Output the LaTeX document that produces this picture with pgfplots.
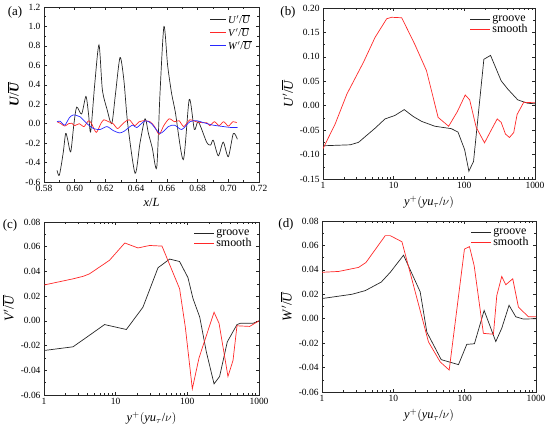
\documentclass[border=0pt]{standalone}
\usepackage{fontspec}
\setmainfont{Liberation Serif}
\usepackage{pgfplots}
\pgfplotsset{compat=1.18}
\definecolor{myred}{RGB}{255,40,40}
\definecolor{myblue}{RGB}{40,40,255}
\pgfplotsset{
  myax/.style={
    scale only axis, anchor=south west, scaled ticks=false,
    axis line style={line width=0.6pt, black!85},
    tick style={black!85, line width=0.5pt},
    tick align=inside, major tick length=3pt, minor tick length=1.8pt,
    ticklabel style={font=\fontsize{9.5}{11}\selectfont},
    /pgf/number format/assume math mode=true,
    xlabel style={font=\fontsize{12.5}{14}\selectfont},
    ylabel style={font=\fontsize{13.5}{15}\selectfont},
    legend style={draw=none, fill=none, font=\fontsize{10.5}{12}\selectfont, row sep=-1.5pt, inner sep=1pt},
    legend cell align=left,
    every axis plot/.append style={line width=0.7pt},
  },
  logax/.style={
    xmin=1, xmax=1000,
    xtick={1,10,100,1000}, xticklabels={1,10,100,1000},
    minor xtick={2,3,4,5,6,7,8,9,20,30,40,50,60,70,80,90,200,300,400,500,600,700,800,900},
    xlabel={\textit{y}$^{+}\big($\textit{yu}$_{\tau}$/$\nu\big)$},
    yticklabel style={/pgf/number format/fixed, /pgf/number format/fixed zerofill, /pgf/number format/precision=2},
    legend style={font=\fontsize{12}{13}\selectfont, row sep=-2.5pt},
  },
}
\begin{document}
\begin{tikzpicture}
\path[use as bounding box] (0,0) rectangle (550bp,435bp);
% ---------------- (a)
\begin{axis}[myax, at={(44bp,253bp)}, width=215bp, height=175bp,
  xmin=0.58, xmax=0.72, ymin=-0.6, ymax=1.2,
  xtick={0.58,0.60,...,0.72}, minor xtick={0.59,0.61,...,0.71},
  ytick={-0.6,-0.4,...,1.2}, minor ytick={-0.5,-0.3,...,1.1},
  xticklabel style={/pgf/number format/fixed, /pgf/number format/fixed zerofill, /pgf/number format/precision=2},
  yticklabel style={/pgf/number format/fixed, /pgf/number format/fixed zerofill, /pgf/number format/precision=1},
  xlabel={\textit{x}/\textit{L}},
  ylabel={\textbf{\textit{U}}/$\overline{\hbox{\textbf{\textit{U}}}}$},
  legend style={at={(0.98,0.975)}, anchor=north east},
  legend image code/.code={\draw[#1] (0cm,0cm) -- (0.55cm,0cm);},
]
\addplot[black!85, smooth, tension=0.45] coordinates {
(0.5885,-0.48) (0.5900,-0.53) (0.5925,-0.30) (0.5941,-0.10) (0.5955,-0.17)
(0.5974,-0.29) (0.5995,0.00) (0.6013,0.17) (0.6045,0.10) (0.6073,0.28)
(0.6090,0.10) (0.6104,-0.08) (0.6130,0.40) (0.6158,0.81) (0.6180,0.35)
(0.6210,0.15) (0.6241,0.00) (0.6265,0.30) (0.6295,0.68) (0.6320,0.45)
(0.6345,0.00) (0.6393,-0.51) (0.6425,-0.20) (0.6458,0.05) (0.6480,-0.10)
(0.6505,-0.25) (0.6534,-0.45) (0.6555,0.30) (0.6581,1.00) (0.6605,0.60)
(0.6631,0.31) (0.6655,0.12) (0.6707,-0.37) (0.6746,0.25) (0.6779,-0.06)
(0.6805,0.02) (0.6859,-0.19) (0.6885,-0.22) (0.6902,-0.17) (0.6935,-0.33)
(0.6967,-0.19) (0.7000,-0.34) (0.7033,-0.10) (0.7059,-0.16)};
\addlegendentry{\textit{U}$'$/$\overline{\hbox{\textit{U}}}$}
\addplot[myred, smooth, tension=0.45] coordinates {
(0.5885,0.02) (0.5910,0.00) (0.5935,-0.025) (0.5960,0.00) (0.5980,0.005)
(0.6000,-0.02) (0.6030,0.00) (0.6060,-0.03) (0.6090,0.03) (0.6110,0.00)
(0.6140,-0.09) (0.6170,0.00) (0.6190,0.04) (0.6220,0.02) (0.6250,0.00)
(0.6280,-0.05) (0.6320,0.01) (0.6355,0.04) (0.6390,-0.02) (0.6420,0.02)
(0.6445,0.03) (0.6490,0.02) (0.6520,-0.03) (0.6550,-0.11) (0.6580,-0.02)
(0.6615,0.05) (0.6650,0.02) (0.6680,0.03) (0.6710,-0.03) (0.6750,0.04)
(0.6790,0.02) (0.6830,0.01) (0.6860,0.01) (0.6880,-0.02) (0.6910,0.02)
(0.6940,-0.02) (0.6970,0.02) (0.7000,-0.025) (0.7030,0.02) (0.7055,0.01)};
\addlegendentry{\textit{V}$'$/$\overline{\hbox{\textit{U}}}$}
\addplot[myblue, smooth, tension=0.45] coordinates {
(0.5885,0.02) (0.5905,0.025) (0.5935,-0.015) (0.5965,0.06) (0.5991,0.09)
(0.6035,0.07) (0.6080,0.00) (0.6122,-0.05) (0.6165,-0.06) (0.6210,-0.03)
(0.6250,-0.07) (0.6290,-0.095) (0.6320,-0.08) (0.6360,-0.03) (0.6380,-0.015)
(0.6405,-0.04) (0.6458,0.03) (0.6500,0.00) (0.6556,-0.10) (0.6610,-0.03)
(0.6650,-0.015) (0.6697,-0.06) (0.6750,0.02) (0.6795,0.03) (0.6840,0.01)
(0.6900,-0.015) (0.6970,-0.03) (0.7020,-0.04) (0.7060,-0.04)};
\addlegendentry{\textit{W}$'$/$\overline{\hbox{\textit{U}}}$}
\end{axis}
% ---------------- (b)
\begin{semilogxaxis}[myax, logax, at={(323bp,256bp)}, width=212bp, height=171bp,
  ymin=-0.15, ymax=0.20,
  ytick={-0.15,-0.10,...,0.20}, minor ytick={-0.125,-0.075,...,0.175},
  ylabel={\textit{U}$'$/$\overline{\hbox{\textit{U}}}$},
  legend style={at={(0.98,0.975)}, anchor=north east},
  legend image code/.code={\draw[#1] (0cm,0cm) -- (0.7cm,0cm);},
]
\addplot[black!85] coordinates {
(1,-0.082) (2.43,-0.080) (3.18,-0.075) (5.46,-0.046) (7.55,-0.027) (10.4,-0.020)
(14.1,-0.008) (18.9,-0.022) (24.8,-0.032) (38.2,-0.042) (65.6,-0.047) (81.4,-0.054)
(101,-0.090) (116,-0.134) (135,-0.114) (189,0.095) (235,0.103) (332,0.051)
(412,0.034) (570,0.012) (788,0.005) (1000,0.004)};
\addlegendentry{groove}
\addplot[myred] coordinates {
(1,-0.088) (1.49,-0.037) (2.18,0.024) (3.74,0.089) (5.46,0.140) (7.97,0.178)
(9.37,0.181) (13.0,0.180) (20,0.125) (29.1,0.072) (42.6,-0.024) (60,-0.042)
(79.7,-0.012) (103,0.022) (119,0.012) (147,-0.044) (193,-0.076) (240,-0.050)
(292,-0.027) (332,-0.034) (382,-0.058) (435,-0.065) (500,-0.055) (558,-0.018)
(692,0.007) (1000,0.006)};
\addlegendentry{smooth}
\end{semilogxaxis}
% ---------------- (c)
\begin{semilogxaxis}[myax, logax, at={(44bp,40bp)}, width=215bp, height=173bp,
  ymin=-0.06, ymax=0.08,
  ytick={-0.06,-0.04,...,0.08}, minor ytick={-0.05,-0.03,...,0.07},
  ylabel={\textit{V}$'$/$\overline{\hbox{\textit{U}}}$},
  legend style={at={(0.98,0.975)}, anchor=north east},
  legend image code/.code={\draw[#1] (0cm,0cm) -- (0.7cm,0cm);},
]
\addplot[black!85] coordinates {
(1,-0.024) (2.54,-0.021) (4,-0.013) (7,-0.003) (14.1,-0.007) (24,0.011)
(39,0.043) (56.7,0.050) (78,0.048) (102,0.035) (120,0.018) (149,0.003)
(184,-0.025) (236,-0.051) (282,-0.045) (361,-0.017) (493,-0.003) (550,-0.002)
(825,-0.002) (1000,0.0)};
\addlegendentry{groove}
\addplot[myred] coordinates {
(1,0.029) (2.54,0.034) (3.5,0.036) (4.3,0.038) (8.2,0.049) (13.4,0.063)
(20.5,0.059) (29.8,0.061) (44.3,0.0605) (78,0.026) (93.7,-0.005) (117.4,-0.055)
(145.5,-0.030) (236,0.007) (277,-0.002) (369,-0.045) (434,-0.032) (493,-0.004)
(741,-0.0045) (1000,0.0)};
\addlegendentry{smooth}
\end{semilogxaxis}
% ---------------- (d)
\begin{semilogxaxis}[myax, logax, at={(322bp,43bp)}, width=214bp, height=171bp,
  ymin=-0.06, ymax=0.08,
  ytick={-0.06,-0.04,...,0.08}, minor ytick={-0.05,-0.03,...,0.07},
  ylabel={\textit{W}$'$/$\overline{\hbox{\textit{U}}}$},
  legend style={at={(0.98,0.975)}, anchor=north east},
  legend image code/.code={\draw[#1] (0cm,0cm) -- (0.7cm,0cm);},
]
\addplot[black!85] coordinates {
(1,0.0165) (2.63,0.020) (4.04,0.023) (6.77,0.030) (9.06,0.038) (13.9,0.052)
(23.8,0.022) (29.5,-0.011) (46.9,-0.0335) (81.9,-0.0376) (107,-0.021) (137,-0.0205)
(187.5,0.0068) (273,-0.0187) (331,-0.0078) (419,0.011) (520,0.0016) (666,-0.0003)
(1000,0.0)};
\addlegendentry{groove}
\addplot[myred] coordinates {
(1,0.038) (1.71,0.0387) (3.26,0.042) (4.13,0.046) (7.7,0.068) (9.05,0.068)
(13.2,0.063) (31.1,-0.019) (45.4,-0.0354) (60.7,-0.042) (99.3,0.057) (116.8,0.059)
(135.8,0.0435) (183,-0.012) (253,-0.0127) (282,0.019) (331,0.0346) (377,0.0278)
(472,0.0327) (567,0.0095) (782,0.0016) (1000,0.0016)};
\addlegendentry{smooth}
\end{semilogxaxis}
% panel letters
\node[font=\fontsize{13}{15}\selectfont] at (15bp,423bp) {(a)};
\node[font=\fontsize{13}{15}\selectfont] at (288bp,423bp) {(b)};
\node[font=\fontsize{13}{15}\selectfont] at (10bp,210bp) {(c)};
\node[font=\fontsize{13}{15}\selectfont] at (286bp,211bp) {(d)};
\end{tikzpicture}
\end{document}
